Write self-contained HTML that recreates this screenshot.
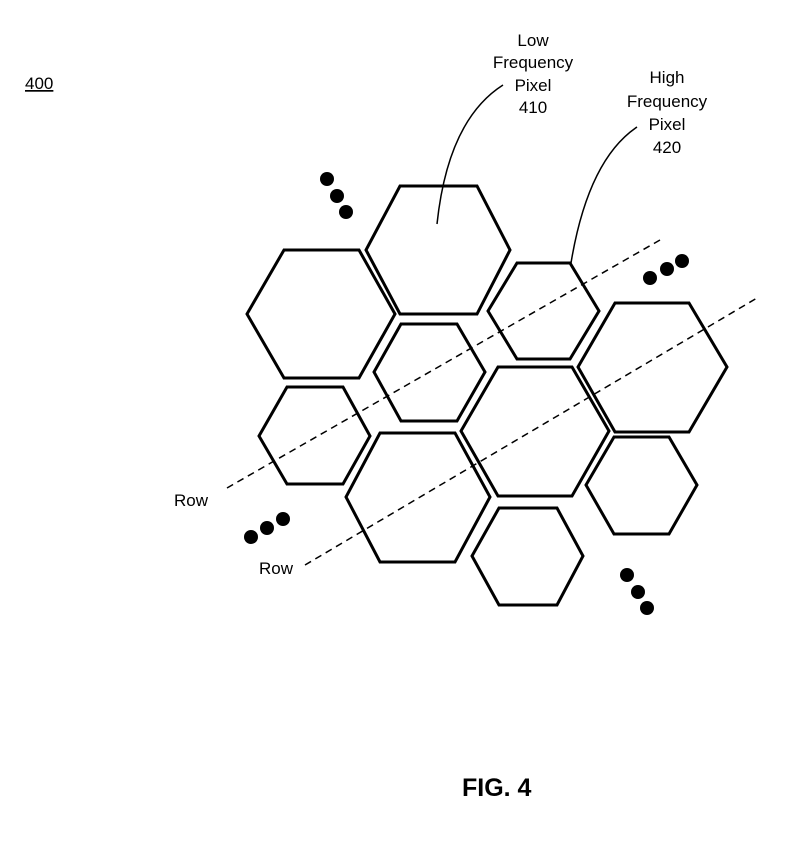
<!DOCTYPE html>
<html><head><style>body{margin:0;background:#fff}svg{display:block}</style></head><body>
<svg width="801" height="844" viewBox="0 0 801 844" xmlns="http://www.w3.org/2000/svg" font-family="Liberation Sans, sans-serif">
<rect width="801" height="844" fill="#fff"/>
<g fill="none" stroke="#000" stroke-width="3" stroke-linejoin="miter">
<polygon points="400,186 477,186 510,250 477,314 400,314 366,250"/>
<polygon points="284,250 359,250 395,314 359,378 284,378 247,314"/>
<polygon points="401,324 457,324 485,372 457,421 401,421 374,372"/>
<polygon points="287,387 343,387 370,436 343,484 287,484 259,436"/>
<polygon points="517,263 570,263 599,311 570,359 517,359 488,311"/>
<polygon points="615,303 689,303 727,367 689,432 615,432 578,367"/>
<polygon points="498,367 572,367 609,431 572,496 498,496 461,431"/>
<polygon points="614,437 669,437 697,485 669,534 614,534 586,485"/>
<polygon points="499,508 557,508 583,556 557,605 499,605 472,556"/>
<polygon points="380,433 455,433 490,497 455,562 380,562 346,497"/>
</g>
<g stroke="#000" stroke-width="1.5" stroke-dasharray="7,5" fill="none">
<line x1="227" y1="488" x2="660" y2="240"/>
<line x1="305" y1="565" x2="757" y2="298"/>
</g>
<g stroke="#000" stroke-width="1.5" fill="none">
<path d="M503,85 Q448,120 437,224"/>
<path d="M637,127 Q588,160 571,263"/>
</g>
<g fill="#000">
<circle cx="327" cy="179" r="7"/><circle cx="337" cy="196" r="7"/><circle cx="346" cy="212" r="7"/>
<circle cx="650" cy="278" r="7"/><circle cx="667" cy="269" r="7"/><circle cx="682" cy="261" r="7"/>
<circle cx="627" cy="575" r="7"/><circle cx="638" cy="592" r="7"/><circle cx="647" cy="608" r="7"/>
<circle cx="251" cy="537" r="7"/><circle cx="267" cy="528" r="7"/><circle cx="283" cy="519" r="7"/>
</g>
<g font-size="17" text-anchor="middle" fill="#000">
<text x="533" y="46">Low</text>
<text x="533" y="68">Frequency</text>
<text x="533" y="91">Pixel</text>
<text x="533" y="113">410</text>
<text x="667" y="83">High</text>
<text x="667" y="107">Frequency</text>
<text x="667" y="130">Pixel</text>
<text x="667" y="153">420</text>
</g>
<text x="174" y="506" font-size="17">Row</text>
<text x="259" y="574" font-size="17">Row</text>
<text x="25" y="89" font-size="17" text-decoration="underline">400</text>
<text x="462" y="796" font-size="25" font-weight="bold">FIG. 4</text>
</svg>
</body></html>
